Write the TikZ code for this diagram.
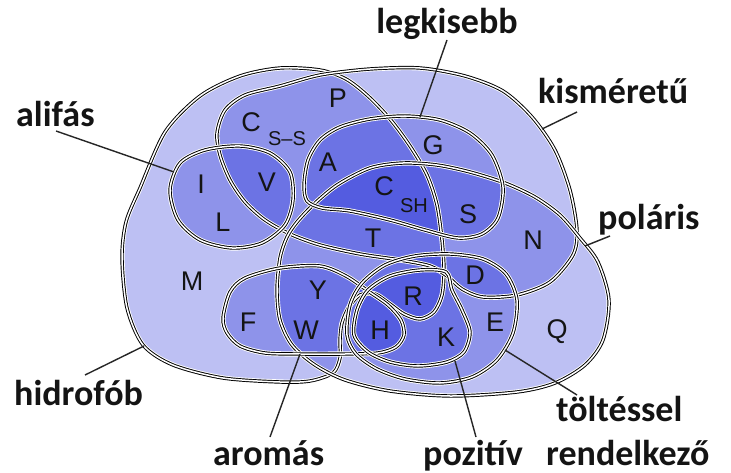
\documentclass[tikz,border=0pt]{standalone}
\usepackage{fontspec}
\setmainfont{Liberation Sans}
\newfontfamily\calfont{Carlito}
\usetikzlibrary{calc}
\definecolor{setblue}{RGB}{25,38,215}
\begin{document}
\begin{tikzpicture}[x=1pt,y=-1pt,
  setfill/.style={fill=setblue,fill opacity=0.285,draw=none},
  halo/.style={draw=white,line width=5.2pt},
  setline/.style={draw=black,line width=0.95pt,double=white,double distance=1.5pt},
  leader/.style={draw=black!85,line width=1.4pt},
  aa/.style={font=\fontsize{27}{27}\selectfont,inner sep=0pt,text=black!92},
  sub/.style={font=\fontsize{20}{20}\selectfont,inner sep=0pt,text=black!92},
  lab/.style={font=\calfont\bfseries\fontsize{36}{36}\selectfont,inner sep=1pt,text=black!92}]
\useasboundingbox (0,0) rectangle (731,473);
\fill[white] (0,0) rectangle (731,473);

% set outlines
\path[save path=\hydP] plot[smooth cycle] coordinates {
 (280,68) (320,70) (346,79) (368,96) (390,119) (410,146) (427,175) (437,205)
 (442,240) (444,270) (442,295) (434,312) (420,319) (404,314) (390,304) (375,294)
 (360,295) (349,307) (342,323) (340,340) (340,358) (333,373) (310,381) (280,382)
 (223,378) (173,365) (143,345) (127,308) (122,258) (126,222) (140,188) (165,132)
 (200,96) (240,76)};
\path[save path=\smallP] plot[smooth cycle] coordinates {
 (245,95) (280,86) (320,75) (370,69) (420,68) (465,76) (503,91) (532,117)
 (555,150) (570,190) (577,230) (573,255) (550,282) (517,295) (483,297) (462,289)
 (447,276) (430,266) (400,260) (360,254) (320,245) (290,234) (265,220) (245,202)
 (230,180) (220,155) (217,133) (225,110)};
\path[save path=\tinyP] plot[smooth cycle] coordinates {
 (304,185) (308,160) (320,140) (340,127) (370,119) (405,116) (440,120) (470,133)
 (492,155) (503,187) (498,218) (482,234) (458,238) (425,230) (390,220) (350,211)
 (322,208) (307,201)};
\path[save path=\polarP] plot[smooth cycle] coordinates {
 (287,237) (297,222) (313,205) (337,185) (370,168) (403,163) (437,165) (470,172)
 (505,183) (535,197) (560,215) (580,238) (598,262) (609,300) (603,340) (585,365)
 (555,383) (517,392) (450,396) (390,391) (345,380) (315,365) (292,345) (280,320)
 (277,290) (280,258)};
\path[save path=\aliphP] plot[smooth cycle] coordinates {
 (170,190) (180,163) (205,150) (240,146) (270,153) (290,172) (293,200) (285,225)
 (262,243) (232,248) (200,240) (178,220)};
\path[save path=\aromP] plot[smooth cycle] coordinates {
 (223,318) (230,292) (245,278) (280,268) (320,266) (346,276) (368,291) (388,305)
 (401,320) (404,335) (396,347) (378,353) (345,354) (300,354) (265,353) (240,346)
 (227,333)};
\path[save path=\chargedP] plot[smooth cycle] coordinates {
 (347,335) (350,305) (362,283) (385,265) (415,256) (450,254) (483,259) (506,274)
 (517,300) (513,333) (497,360) (472,377) (440,383) (405,379) (377,369) (356,354)};
\path[save path=\posP] plot[smooth cycle] coordinates {
 (354,335) (357,310) (368,290) (390,276) (420,270) (446,272) (452,290) (462,310)
 (470,332) (464,352) (447,362) (418,366) (390,362) (368,352)};

% translucent fills: overlaps get darker
\path[setfill, use path=\hydP];
\path[setfill, use path=\smallP];
\path[setfill, use path=\tinyP];
\path[setfill, use path=\polarP];
\path[setfill, use path=\aliphP];
\path[setfill, use path=\aromP];
\path[setfill, use path=\chargedP];
\path[setfill, use path=\posP];

% outlines with white halo
\path[halo, use path=\hydP];     \path[setline, use path=\hydP];
\path[halo, use path=\smallP];   \path[setline, use path=\smallP];
\path[halo, use path=\polarP];   \path[setline, use path=\polarP];
\path[halo, use path=\tinyP];    \path[setline, use path=\tinyP];
\path[halo, use path=\aliphP];   \path[setline, use path=\aliphP];
\path[halo, use path=\aromP];    \path[setline, use path=\aromP];
\path[halo, use path=\chargedP]; \path[setline, use path=\chargedP];
\path[halo, use path=\posP];     \path[setline, use path=\posP];

% amino acid letters
\node[aa] (lP) at (338,98) {P};
\node[aa] (lCss) at (251,122) {C};
\node[sub] (lCssSub) at (287,139) {S–S};
\node[aa] (lG) at (433,145) {G};
\node[aa] (lA) at (328,162) {A};
\node[aa] (lI) at (201,184) {I};
\node[aa] (lV) at (267,182) {V};
\node[aa] (lCsh) at (384,186) {C};
\node[sub] (lCshSub) at (414,206) {SH};
\node[aa] (lS) at (468,214) {S};
\node[aa] (lL) at (223,222) {L};
\node[aa] (lT) at (373,238) {T};
\node[aa] (lN) at (533,240) {N};
\node[aa] (lM) at (192,281) {M};
\node[aa] (lD) at (475,275) {D};
\node[aa] (lY) at (318,290) {Y};
\node[aa] (lR) at (413,296) {R};
\node[aa] (lF) at (248,322) {F};
\node[aa] (lW) at (306,330) {W};
\node[aa] (lH) at (380,330) {H};
\node[aa] (lE) at (495,322) {E};
\node[aa] (lK) at (446,337) {K};
\node[aa] (lQ) at (557,332) {Q};

% set names
\node[lab,anchor=base west] (tAlif) at (15,127) {alifás};
\node[lab,anchor=base] (tLeg) at (447,34) {legkisebb};
\node[lab,anchor=base west] (tKism) at (537,104) {kisméretű};
\node[lab,anchor=base west] (tPol) at (597,230) {poláris};
\node[lab,anchor=base west] (tHid) at (13,405) {hidrofób};
\node[lab,anchor=base west] (tArom) at (212,465) {aromás};
\node[lab,anchor=base west] (tPoz) at (422,465) {pozitív};
\node[lab,anchor=base west] (tTolt) at (555,421) {töltéssel};
\node[lab,anchor=base west] (tRend) at (545,465) {rendelkező};

% points on the outlines where the leaders end
\coordinate (pAlif) at (174,172);
\coordinate (pLeg) at (420,117);
\coordinate (pKism) at (542,129);
\coordinate (pPol) at (585,246);
\coordinate (pHid) at (144,346);
\coordinate (pArom) at (300,354);
\coordinate (pPoz) at (455,361);
\coordinate (pTolt) at (505,350);

\draw[leader] ($(tAlif.base west)+(41,4)$) -- (pAlif);
\draw[leader] ($(tLeg.base)+(0,6)$) -- (pLeg);
\draw[leader] ($(tKism.base west)+(40,8)$) -- (pKism);
\draw[leader] ($(tPol.base west)+(13,6)$) -- (pPol);
\draw[leader] ($(tHid.base west)+(72,-30)$) -- (pHid);
\draw[leader] ($(tArom.base west)+(58,-28)$) -- (pArom);
\draw[leader] ($(tPoz.base west)+(54,-28)$) -- (pPoz);
\draw[leader] ($(tTolt.base west)+(22,-26)$) -- (pTolt);
\end{tikzpicture}
\end{document}
